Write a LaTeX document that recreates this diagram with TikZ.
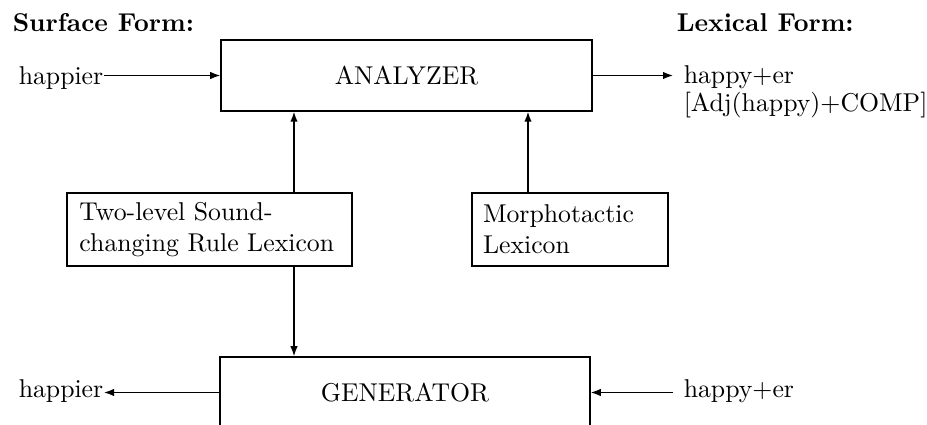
\documentclass[tikz,border=0pt]{standalone}
\usetikzlibrary{arrows.meta}

\begin{document}
\begin{tikzpicture}[x=0.4pt,y=-0.4pt,line width=0.6pt,
  every node/.style={font=\fontsize{10.3}{12.4}\selectfont},
  box/.style={draw,rectangle,inner sep=0pt},
  lbl/.style={inner sep=0pt,anchor=base west},
  >={Latex[length=4pt,width=3pt]}]
\useasboundingbox (0,0) rectangle (927,425);
\clip (0,0) rectangle (927,425);

% headings
\node[lbl,font=\fontsize{10.3}{12.4}\selectfont\bfseries] (surf) at (12,32) {Surface Form:};
\node[lbl,font=\fontsize{10.3}{12.4}\selectfont\bfseries] (lexf) at (676,32) {Lexical Form:};

% boxes
\node[box,minimum width=148.4pt,minimum height=28.4pt] (ana) at (406.5,75.5) {ANALYZER};
\node[box,minimum width=148pt,minimum height=28.4pt] (gen) at (405,392.5) {GENERATOR};
\node[box,inner xsep=5pt,text width=104pt,align=left,minimum height=29.2pt]
  (rules) at (209.5,229.5) {Two-level Sound-\\changing Rule Lexicon};
\node[box,inner xsep=4.4pt,text width=69.6pt,align=left,minimum height=29.2pt]
  (morph) at (570,229.5) {Morphotactic\\Lexicon};

% words
\node[lbl] (surfin) at (18,85) {happier};
\node[lbl] (lexout) at (683,84) {happy+er};
\node[lbl] (tags) at (683,112) {[Adj(happy)+COMP]};
\node[lbl] (surfout) at (18,398) {happier};
\node[lbl] (lexin) at (683,398) {happy+er};

\coordinate (ra) at (294,0);
\coordinate (ma) at (528,0);

% connectors
\draw[->] (surfin.east |- ana.west) -- (ana.west);
\draw[->] (ana.east) -- ([xshift=-4pt]ana.east -| lexout.west);
\draw[->] (rules.north -| ra) -- (ana.south -| ra);
\draw[->] (morph.north -| ma) -- (ana.south -| ma);
\draw[->] (rules.south -| ra) -- (gen.north -| ra);
\draw[->] (gen.west) -- (gen.west -| surfout.east);
\draw[->] ([xshift=-4pt]gen.east -| lexin.west) -- (gen.east);
\end{tikzpicture}
\end{document}
